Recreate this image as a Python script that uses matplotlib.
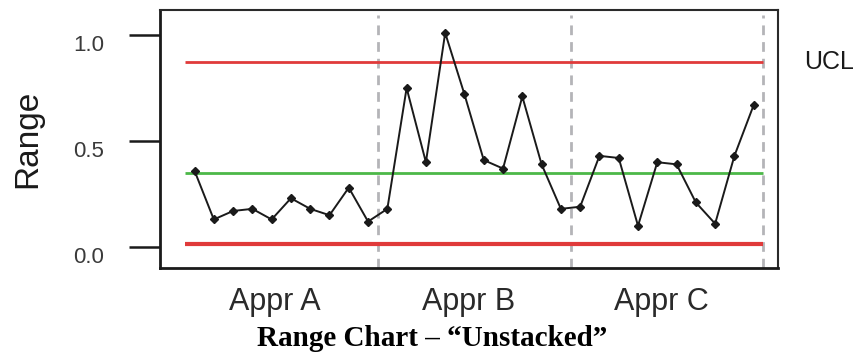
import numpy as np
import matplotlib

matplotlib.use("Agg")
import matplotlib.pyplot as plt
from matplotlib.transforms import ScaledTranslation

# Subgroup ranges, 10 parts per appraiser
appr_a = [0.36, 0.13, 0.17, 0.18, 0.13, 0.23, 0.18, 0.15, 0.28, 0.12]
appr_b = [0.18, 0.75, 0.40, 1.01, 0.72, 0.41, 0.37, 0.71, 0.39, 0.18]
appr_c = [0.19, 0.43, 0.42, 0.10, 0.40, 0.39, 0.21, 0.11, 0.43, 0.67]
groups = ["Appr A", "Appr B", "Appr C"]

ucl = 0.874
center = 0.348
lcl = 0.012

ranges = np.array(appr_a + appr_b + appr_c)
idx = np.arange(1, len(ranges) + 1)
n_per = len(appr_a)

fig = plt.figure(figsize=(8.56, 3.56), dpi=100)
ax = fig.add_axes([160 / 856, 1 - 268 / 356, 618 / 856, 258 / 356])

x0, x1 = 0.5, len(ranges) + 0.5
ax.hlines(ucl, x0, x1, color="#e03a3a", lw=2.0, zorder=2)
ax.hlines(lcl, x0, x1, color="#e03a3a", lw=3.0, zorder=2)
ax.hlines(center, x0, x1, color="#4cb848", lw=2.0, zorder=2)

for k in range(1, len(groups) + 1):
    ax.axvline(k * n_per + 0.5, ymax=0.98, color="#b4b4b8", lw=2.0,
               ls=(0, (3.5, 2.5)), zorder=1)

ax.plot(idx, ranges, color="#1a1a1a", lw=1.4, marker="D", ms=4, zorder=3)

ax.set_xlim(-0.79, 31.26)
ax.set_ylim(-0.099, 1.118)

ax.set_yticks([0.0, 0.5, 1.0])
ax.set_yticklabels(["0.0", "0.5", "1.0"], fontsize=16, color="#3a3a3a",
                   family="Liberation Sans")
ax.tick_params(axis="y", length=22, width=1.8, pad=18, color="#1a1a1a")
for lab in ax.get_yticklabels():
    lab.set_va("top")

centers = [n_per * g + (n_per + 1) / 2 for g in range(len(groups))]
ax.set_xticks(centers)
ax.set_xticklabels(groups, fontsize=22, color="#2a2a2a", family="Liberation Sans")
ax.tick_params(axis="x", length=0, pad=14)
# group labels sit a little left of the group midpoint
shift = ScaledTranslation(-6 / 100, 0, fig.dpi_scale_trans)
for lab in ax.get_xticklabels():
    lab.set_transform(lab.get_transform() + shift)

ax.set_ylabel("Range", fontsize=24, color="#1a1a1a", family="Liberation Sans",
              labelpad=22)

for side in ["left", "bottom"]:
    ax.spines[side].set_linewidth(2.0)
    ax.spines[side].set_color("#1a1a1a")
for side in ["top", "right"]:
    ax.spines[side].set_linewidth(1.5)
    ax.spines[side].set_color("#2a2a2a")

ax.text(1.043, ucl, "UCL", transform=ax.get_yaxis_transform(), fontsize=18,
        color="#1a1a1a", va="center", ha="left", family="Liberation Sans")

fig.text(432 / 856, 1 - 338 / 356, "Range Chart \u2013 \u201cUnstacked\u201d",
         fontsize=21, fontweight="bold", family="Liberation Serif",
         ha="center", va="center")

fig.savefig("out.png", dpi=100)
